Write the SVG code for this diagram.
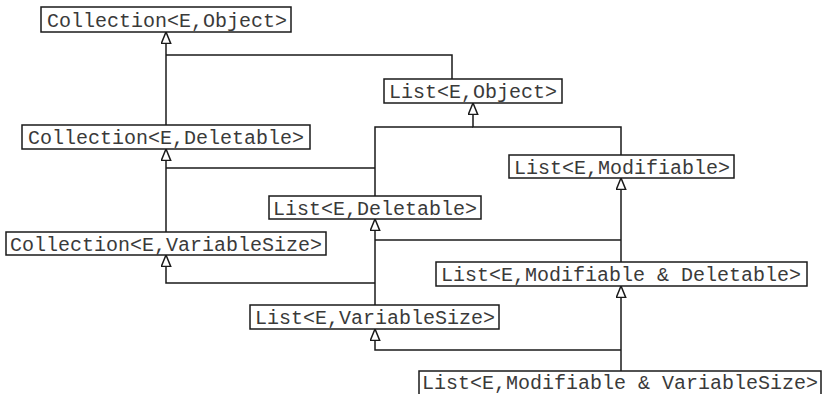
<svg xmlns="http://www.w3.org/2000/svg" width="823" height="394" viewBox="0 0 823 394">
  <style>
    .box { fill: #ffffff; stroke: #1a1a1a; stroke-width: 1.5; }
    .lbl { font-family: "Liberation Mono", "Courier New", monospace; font-size: 20px; fill: #3a3a3a; }
    .wire { fill: none; stroke: #1a1a1a; stroke-width: 1.5; }
    .gen { marker-end: url(#hollow); }
  </style>
  <defs>
    <!-- hollow triangle: generalisation arrowhead -->
    <marker id="hollow" markerUnits="userSpaceOnUse" viewBox="0 0 13 11" refX="12.2" refY="5.5" markerWidth="13" markerHeight="11" orient="auto">
      <path d="M0.8,0.8 L12.2,5.5 L0.8,10.2 Z" fill="#ffffff" stroke="#1a1a1a" stroke-width="1.5"/>
    </marker>
  </defs>

  <g id="connectors">
    <!-- Collection<E,Deletable> and List<E,Object> extend Collection<E,Object> -->
    <path class="wire gen" d="M166,125 V32"/>
    <path class="wire" d="M452,79 V55 H166"/>
    <!-- List<E,Modifiable> and List<E,Deletable> extend List<E,Object> -->
    <path class="wire gen" d="M621,155 V127 H473 V103"/>
    <path class="wire" d="M375,196 V127 H473"/>
    <!-- List<E,Deletable> and Collection<E,VariableSize> extend Collection<E,Deletable> -->
    <path class="wire gen" d="M166,232 V149"/>
    <path class="wire" d="M375,168 H166"/>
    <!-- List<E,Modifiable & Deletable> extends List<E,Modifiable> -->
    <path class="wire gen" d="M621,262 V178"/>
    <!-- List<E,Modifiable & Deletable> and List<E,VariableSize> extend List<E,Deletable> -->
    <path class="wire gen" d="M375,305 V219"/>
    <path class="wire" d="M621,240 H375"/>
    <!-- List<E,VariableSize> extends Collection<E,VariableSize> -->
    <path class="wire gen" d="M375,283 H166 V255"/>
    <!-- List<E,Modifiable & VariableSize> extends both lists above it -->
    <path class="wire gen" d="M621,371 V286"/>
    <path class="wire gen" d="M621,350 H375 V329"/>
  </g>

  <g id="collection-object">
    <rect class="box" x="41" y="7" width="250" height="25"/>
    <text class="lbl" x="47" y="26.5">Collection&lt;E,Object&gt;</text>
  </g>
  <g id="list-object">
    <rect class="box" x="384" y="79" width="178" height="24"/>
    <text class="lbl" x="389" y="98">List&lt;E,Object&gt;</text>
  </g>
  <g id="collection-deletable">
    <rect class="box" x="22" y="125" width="288" height="24"/>
    <text class="lbl" x="28" y="144">Collection&lt;E,Deletable&gt;</text>
  </g>
  <g id="list-modifiable">
    <rect class="box" x="509" y="155" width="225" height="23"/>
    <text class="lbl" x="514" y="173.5">List&lt;E,Modifiable&gt;</text>
  </g>
  <g id="list-deletable">
    <rect class="box" x="269" y="196" width="212" height="23"/>
    <text class="lbl" x="273" y="214.5">List&lt;E,Deletable&gt;</text>
  </g>
  <g id="collection-variablesize">
    <rect class="box" x="6" y="232" width="320" height="23"/>
    <text class="lbl" x="10" y="250.5">Collection&lt;E,VariableSize&gt;</text>
  </g>
  <g id="list-modifiable-deletable">
    <rect class="box" x="436" y="262" width="371" height="24"/>
    <text class="lbl" x="441" y="281">List&lt;E,Modifiable &amp; Deletable&gt;</text>
  </g>
  <g id="list-variablesize">
    <rect class="box" x="250" y="305" width="249" height="24"/>
    <text class="lbl" x="255" y="324">List&lt;E,VariableSize&gt;</text>
  </g>
  <g id="list-modifiable-variablesize">
    <rect class="box" x="419" y="371" width="402" height="30"/>
    <text class="lbl" x="422" y="388.5">List&lt;E,Modifiable &amp; VariableSize&gt;</text>
  </g>
</svg>
